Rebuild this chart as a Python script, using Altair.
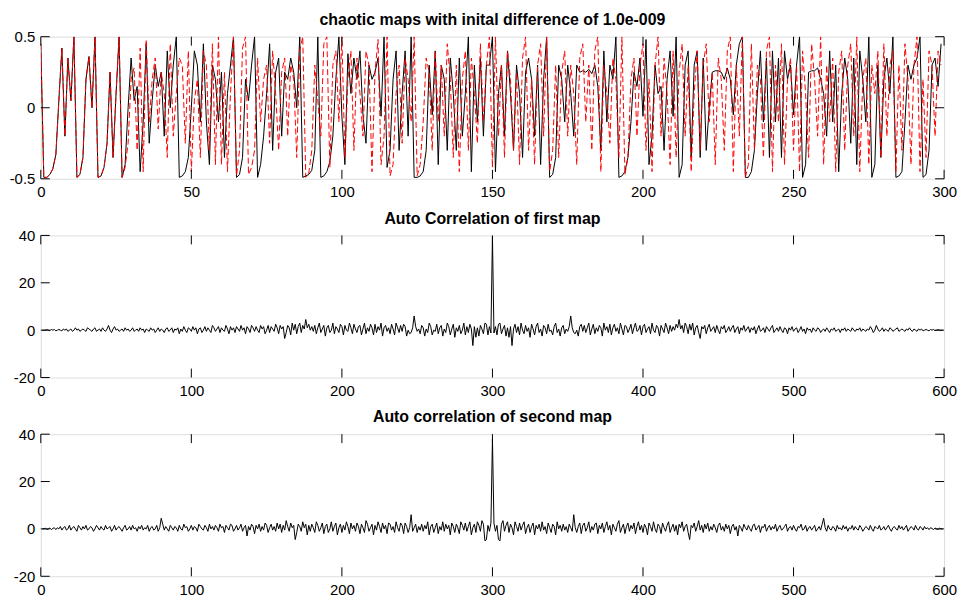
import altair as alt
import pandas as pd

# ---------------- data ----------------
map_first = [
    0.45, -0.49, -0.49, -0.47, -0.43, -0.33, 0.05, 0.42, -0.2, 0.35,
    0.05, 0.5, -0.49, -0.47, -0.35, 0.2, 0.36, 0.0, 0.5, -0.49,
    -0.48, -0.42, -0.25, 0.25, -0.35, 0.1, 0.5, -0.49, -0.4, 0.0,
    0.35, 0.05, 0.15, -0.45, -0.1, 0.45, -0.25, 0.05, 0.3, 0.15,
    0.25, -0.2, 0.4, 0.0, 0.3, 0.5, -0.49, -0.48, -0.45, -0.35,
    0.0, 0.4, 0.3, -0.1, 0.45, -0.1, -0.4, 0.3, 0.2, -0.1,
    0.25, -0.35, 0.1, 0.3, 0.5, -0.49, -0.47, -0.35, 0.2, 0.05,
    0.3, 0.5, -0.49, -0.4, -0.2, 0.1, 0.45, -0.3, 0.25, 0.35,
    -0.2, 0.25, 0.2, 0.35, 0.25, 0.0, 0.5, -0.49, -0.48, -0.47,
    -0.44, -0.3, 0.5, -0.49, -0.48, -0.45, -0.38, -0.2, 0.2, 0.5,
    -0.06, -0.4, 0.38, 0.1, 0.35, 0.2, 0.4, -0.05, -0.25, 0.3,
    0.2, 0.25, 0.35, -0.06, 0.5, -0.42, -0.3, 0.2, 0.4, -0.3,
    0.1, 0.4, -0.2, 0.5, -0.49, -0.49, -0.48, -0.45, -0.3, 0.3,
    -0.05, 0.4, -0.4, 0.3, 0.2, -0.3, 0.35, 0.1, -0.3, 0.35,
    -0.2, 0.1, 0.5, -0.45, 0.3, -0.1, 0.35, -0.2, 0.3, 0.3,
    0.5, -0.45, 0.1, 0.3, -0.2, 0.4, 0.1, -0.3, 0.3, 0.1,
    -0.35, 0.25, 0.35, 0.2, -0.2, 0.3, -0.4, 0.2, 0.5, -0.49,
    -0.47, -0.35, 0.3, 0.2, -0.1, 0.3, 0.1, -0.2, 0.3, 0.25,
    0.26, 0.25, 0.27, 0.24, 0.3, 0.15, -0.3, 0.4, -0.1, 0.3,
    0.2, 0.5, -0.49, -0.48, -0.45, -0.35, -0.1, 0.25, 0.15, 0.35,
    -0.06, 0.48, -0.4, -0.2, 0.3, 0.1, 0.15, -0.3, 0.2, 0.4,
    -0.06, 0.5, -0.49, -0.4, 0.3, 0.4, -0.35, 0.3, 0.4, -0.35,
    0.35, -0.3, 0.0, 0.25, 0.26, 0.26, 0.25, 0.2, 0.28, 0.2,
    -0.05, 0.3, 0.45, 0.5, -0.49, -0.49, -0.45, -0.3, 0.1, 0.4,
    -0.1, 0.35, -0.35, 0.4, -0.1, 0.35, -0.35, 0.4, 0.2, 0.3,
    -0.05, 0.3, 0.5, -0.49, -0.4, 0.25, 0.26, 0.26, 0.28, 0.2,
    0.1, -0.2, 0.4, -0.1, 0.3, -0.45, 0.1, 0.35, 0.2, -0.25,
    0.35, -0.4, 0.4, 0.2, -0.1, 0.5, -0.49, -0.4, 0.3, -0.35,
    0.2, 0.35, 0.1, 0.5, -0.49, -0.48, -0.45, -0.1, 0.3, 0.2,
    0.3, 0.35, 0.5, -0.49, -0.47, -0.3, 0.3, 0.35, 0.15, 0.45,
]

# second map: identical to the first for the first 28 samples, then diverges
map_second_tail = [
    -0.42, -0.25, 0.2, 0.28, -0.3, 0.42, -0.45, 0.48, -0.1, 0.2, 0.35, -0.15,
    0.25, 0.1, -0.35, 0.45, -0.2, 0.1, 0.35, 0.3, -0.25, 0.4,
    -0.45, 0.05, 0.2, -0.35, 0.4, 0.3, -0.3, 0.45, -0.4, 0.5,
    -0.4, 0.25, -0.45, 0.1, 0.5, -0.48, -0.3, 0.42, 0.5, -0.47,
    -0.42, -0.3, 0.35, -0.1, 0.2, 0.3, -0.25, 0.4, 0.1, -0.3,
    0.25, 0.35, -0.2, 0.3, 0.2, -0.35, 0.4, 0.5, -0.49, -0.46,
    -0.3, 0.3, 0.05, -0.2, 0.45, 0.5, -0.42, 0.3, 0.4, -0.1,
    0.5, -0.35, 0.2, 0.4, -0.3, 0.35, 0.1, -0.2, 0.4, 0.3,
    -0.45, 0.25, 0.48, -0.4, -0.2, 0.5, -0.48, -0.4, 0.1, 0.3,
    -0.25, 0.35, 0.2, -0.1, 0.5, -0.48, -0.4, -0.1, 0.35, 0.25,
    -0.3, 0.4, -0.1, 0.3, -0.2, 0.45, 0.2, -0.35, 0.3, -0.45,
    0.2, 0.4, -0.3, 0.35, 0.1, -0.25, 0.45, -0.1, 0.3, 0.5,
    -0.42, 0.5, -0.2, 0.3, -0.35, 0.4, 0.2, -0.3, 0.25, -0.4,
    0.35, 0.5, -0.3, 0.2, -0.4, 0.3, 0.45, -0.2, 0.5, -0.45,
    -0.3, 0.3, -0.35, 0.25, 0.4, -0.2, 0.3, 0.1, -0.4, 0.35,
    0.45, -0.1, 0.3, -0.3, 0.4, 0.5, -0.45, 0.3, 0.1, -0.25,
    0.35, 0.2, -0.35, 0.5, -0.47, -0.35, 0.2, 0.35, -0.2, 0.3,
    0.45, -0.3, 0.2, -0.45, 0.3, 0.5, -0.2, 0.35, 0.1, -0.4,
    0.4, -0.35, 0.25, 0.45, -0.2, 0.3, -0.45, 0.1, 0.4, -0.3,
    0.3, 0.45, -0.1, 0.25, -0.4, 0.35, 0.2, -0.3, 0.4, 0.5,
    -0.45, 0.3, -0.2, 0.5, -0.49, -0.4, 0.45, -0.3, 0.3, 0.2,
    -0.35, 0.4, 0.5, -0.45, 0.3, -0.1, 0.45, -0.4, 0.2, 0.35,
    -0.3, 0.3, -0.45, 0.4, 0.1, -0.35, 0.45, 0.2, -0.2, 0.5,
    -0.4, 0.3, -0.1, 0.35, -0.45, 0.25, 0.4, -0.3, 0.3, 0.45,
    -0.2, 0.5, -0.45, 0.2, 0.35, -0.4, 0.3, 0.1, 0.4, -0.35,
    0.45, -0.2, 0.3, 0.4, -0.45, 0.3, -0.3, 0.45, 0.2, -0.4,
    0.3, 0.5, -0.45, 0.2, -0.35, 0.4, 0.3, -0.2, 0.4, 0.3,
]
map_second = map_first[:28] + map_second_tail

# auto-correlation values at lags 1..299 (the sequence is symmetric about lag 0)
acf1_peak = 39.5
acf1_lags = [
    -1.2, 1.5, -2.0, 2.5, 3.0, -1.5, 0.5, 2.0, -2.5, 1.0,
    -3.0, 1.5, -6.5, 0.5, 2.5, -1.0, 1.5, -2.0, 3.0, 0.0,
    -1.5, 2.0, -0.5, 1.0, -3.0, 2.5, 0.5, -2.0, 1.5, 3.0,
    -1.0, 0.5, -2.5, 2.0, 1.0, -1.5, 2.5, -0.5, 0.0, -2.0,
    1.5, 3.0, -1.0, 0.5, -2.5, 1.0, 2.0, -1.5, 0.5, -0.5,
    1.5, 6.0, 1.0, -1.0, -1.5, 0.0, -2.5, 1.5, 2.5, -0.5,
    2.0, -1.0, 1.0, 3.0, -2.0, 0.5, 2.5, -1.5, 1.0, -0.5,
    2.0, 1.0, -2.5, 3.0, 0.0, 1.5, -1.0, 2.5, -2.0, 1.0,
    2.5, -0.5, 1.0, -1.5, 3.0, 0.5, -2.0, 2.0, 1.5, -1.0,
    0.5, 2.5, -1.5, 1.0, 3.0, -0.5, 0.0, 2.0, -2.0, 1.5,
    2.5, -1.0, 0.5, 1.5, -1.5, 3.0, 0.0, -1.0, 2.0, 1.0,
    -2.5, 2.0, 0.5, -1.0, 3.0, 1.0, -1.5, 2.0, -0.5, 1.5,
    0.0, 2.5, 1.0, 4.5, 0.5, 2.0, -1.0, 3.0, 1.5, -1.5,
    2.5, 0.0, 3.0, -2.0, 1.0, 2.0, -1.0, -3.5, 1.5, 0.5,
    2.0, -1.5, 1.0, 2.5, -0.5, 0.5, 1.5, -1.0, 2.0, 0.0,
    -1.5, 1.5, 0.5, 2.0, -1.0, 0.0, 1.5, -0.5, 1.0, 2.0,
    -1.0, 0.5, 1.5, -1.5, 1.0, 0.0, 2.0, -0.5, 0.5, 1.5,
    -1.0, 1.0, 0.0, 1.5, -1.5, 0.5, 2.0, -0.5, 0.0, 1.0,
    -1.0, 1.5, 0.5, -0.5, 1.0, 2.0, -1.0, 0.0, 1.0, -0.5,
    1.5, 0.0, -1.0, 1.0, 0.5, -1.5, 1.0, 0.0, 1.5, -0.5,
    0.5, 1.0, -1.0, 0.0, 1.5, -0.5, 0.5, -1.5, 1.0, 0.0,
    0.5, -1.0, 1.0, 0.0, -0.5, 1.0, 0.5, -1.0, 0.0, 0.5,
    -0.5, 1.0, 0.0, -1.0, 0.5, 0.0, 1.0, -0.5, 0.0, 0.5,
    -1.0, 0.5, 0.0, 1.0, -0.5, 0.5, 0.0, -0.5, 1.0, 0.0,
    -0.5, 0.5, 0.0, 1.0, -0.5, 0.5, 0.0, -0.5, 0.5, 0.0,
    1.5, 0.5, -1.0, 0.0, 2.0, 0.5, -0.5, 0.0, 1.0, -0.5,
    0.5, 0.0, -0.5, 1.0, 0.5, -0.5, 0.0, 0.5, 1.0, -0.5,
    0.0, 0.5, 0.0, -0.5, 0.5, 0.0, 1.0, 0.0, -0.5, 0.5,
    0.0, -0.5, 0.5, 0.0, 0.5, -0.3, 0.0, 0.3, 0.0, -0.3,
    0.3, 0.0, 0.3, -0.2, 0.0, 0.2, 0.0, -0.1, 0.0,
]

acf2_peak = 38.0
acf2_lags = [
    2.5, -1.0, 1.5, -4.5, -5.0, 2.0, 3.5, -1.0, 1.5, 3.0,
    -1.5, 2.0, 0.5, -2.5, 3.0, 1.0, -1.0, 2.5, -0.5, 1.5,
    3.0, -2.0, 0.5, 2.0, -1.5, 1.0, 2.5, -2.5, 1.5, 0.0,
    2.0, -1.0, 3.0, -0.5, 1.0, -2.0, 2.5, 0.5, -1.5, 2.0,
    1.0, -2.5, 3.0, 0.0, 1.5, -1.0, 2.0, -0.5, 1.0, -1.5,
    2.0, 0.5, -1.0, 6.0, 0.5, -1.5, 1.0, 2.5, -2.0, 1.5,
    2.5, -1.0, 0.5, 3.0, -1.5, 1.0, -0.5, 2.0, 2.5, -2.0,
    1.5, 0.0, 2.5, -1.5, 1.0, 3.0, -0.5, 1.5, -2.5, 2.0,
    0.5, -1.0, 2.0, 3.5, -1.5, 0.5, 2.0, -2.0, 1.0, 2.5,
    -1.0, 1.5, 0.0, 2.5, -2.0, 1.0, 3.0, -0.5, 1.5, -1.5,
    2.0, 0.5, -2.5, 2.5, 1.0, -1.0, 3.0, 0.0, -1.5, 2.0,
    1.0, -2.0, 2.5, 0.5, -1.0, 1.5, 3.0, -1.5, 0.5, 2.0,
    -1.0, 1.5, -2.5, 2.0, 0.5, 3.0, -1.0, 1.0, 2.0, -1.5,
    -4.5, 1.5, 0.5, 2.5, -1.0, 1.0, 3.5, -0.5, 1.5, -1.5,
    2.0, 0.0, 2.5, -1.0, 1.0, -0.5, 2.0, 0.5, -1.5, 1.5,
    2.5, -0.5, 1.0, -1.0, 2.0, 0.0, 1.5, -2.0, 1.0, 2.0,
    -0.5, 1.0, -3.0, 1.5, 0.5, -1.0, 2.0, 0.5, -0.5, 1.5,
    0.0, -1.0, 1.5, 2.0, -0.5, 0.5, 1.5, -1.5, 1.0, 0.5,
    2.0, -1.0, 0.5, 1.5, -0.5, 1.0, 0.0, 2.0, -1.0, 0.5,
    1.5, -0.5, 0.0, 1.0, 2.0, -1.0, 0.5, 1.0, -0.5, 1.5,
    0.0, -1.0, 1.0, 0.5, 2.0, -0.5, 0.0, 1.5, -1.0, 0.5,
    1.0, -0.5, 0.5, 1.5, -1.0, 0.0, 1.0, -0.5, 2.0, 4.5,
    0.5, -1.0, 1.5, 0.0, -0.5, 1.0, 0.5, -1.0, 1.5, 0.0,
    0.5, -0.5, 1.5, 0.0, 1.0, -1.0, 0.5, 0.0, 1.5, -0.5,
    1.0, 0.0, -0.5, 1.5, 0.5, -1.0, 0.0, 1.0, 0.5, -0.5,
    1.5, 0.0, -1.0, 1.0, 0.5, 0.0, 1.5, -0.5, 0.0, 1.0,
    -0.5, 0.5, 1.5, 0.0, -1.0, 0.5, 1.0, 0.0, -0.5, 1.5,
    0.0, 1.0, -0.5, 0.5, 1.5, -1.0, 0.0, 1.0, 0.5, -0.5,
    1.5, 0.0, -0.5, 1.0, 0.5, -0.5, 1.0, 0.0, 0.5, -0.3,
    0.5, 0.2, -0.3, 0.4, 0.0, -0.2, 0.3, 0.0, 0.1,
]

top_xticks = [0, 50, 100, 150, 200, 250, 300]
top_yticks = [-0.5, 0, 0.5]
acf_xticks = [0, 100, 200, 300, 400, 500, 600]
acf_yticks = [-20, 0, 20, 40]

title_top = "chaotic maps with inital difference of 1.0e-009"
title_mid = "Auto Correlation of first map"
title_bot = "Auto correlation of second map"

# ---------------- build tables ----------------
top_df = pd.DataFrame({
    "x": list(range(len(map_first))) * 2,
    "y": map_first + map_second,
    "series": ["first"] * len(map_first) + ["second"] * len(map_second),
})


def full_acf(peak, lags):
    vals = list(reversed(lags)) + [peak] + list(lags)
    return pd.DataFrame({"x": list(range(1, len(vals) + 1)), "y": vals})


acf1_df = full_acf(acf1_peak, acf1_lags)
acf2_df = full_acf(acf2_peak, acf2_lags)

W, H = 909, 143
TICK = 9
FONT = "Liberation Sans"


def panel(lines, xdomain, ydomain, xticks, yticks, title):
    xs = alt.Scale(domain=xdomain, nice=False, zero=False)
    ys = alt.Scale(domain=ydomain, nice=False, zero=False)
    xax = alt.Axis(values=xticks, ticks=False, domain=False, grid=False, title=None,
                   labelFontSize=15, labelFont=FONT, labelColor="black", labelPadding=6,
                   labelFlush=False, labelOverlap=False, labelExpr="datum.value + ''")
    yax = alt.Axis(values=yticks, ticks=False, domain=False, grid=False, title=None,
                   labelFontSize=15, labelFont=FONT, labelColor="black", labelPadding=6,
                   labelFlush=False, labelOverlap=False, labelExpr="datum.value + ''")
    base_layers = []
    for i, lyr in enumerate(lines):
        if i == 0:
            lyr = lyr.encode(x=alt.X("x:Q", scale=xs, axis=xax),
                             y=alt.Y("y:Q", scale=ys, axis=yax))
        else:
            lyr = lyr.encode(x=alt.X("x:Q", scale=xs), y=alt.Y("y:Q", scale=ys))
        base_layers.append(lyr)

    xt = pd.DataFrame({"x": xticks})
    yt = pd.DataFrame({"y": yticks})
    tick_style = dict(color="black", strokeWidth=1)
    t1 = alt.Chart(xt).mark_rule(**tick_style).encode(
        x=alt.X("x:Q", scale=xs), y=alt.value(H), y2=alt.value(H - TICK))
    t2 = alt.Chart(xt).mark_rule(**tick_style).encode(
        x=alt.X("x:Q", scale=xs), y=alt.value(0), y2=alt.value(TICK))
    t3 = alt.Chart(yt).mark_rule(**tick_style).encode(
        y=alt.Y("y:Q", scale=ys), x=alt.value(0), x2=alt.value(TICK))
    t4 = alt.Chart(yt).mark_rule(**tick_style).encode(
        y=alt.Y("y:Q", scale=ys), x=alt.value(W), x2=alt.value(W - TICK))
    return alt.layer(*base_layers, t1, t2, t3, t4).properties(
        width=W, height=H,
        title=alt.TitleParams(title, fontSize=16, fontWeight="bold", font=FONT,
                              color="black", anchor="middle", offset=2),
    )


black_line = alt.Chart(top_df).transform_filter(alt.datum.series == "first").mark_line(
    color="black", strokeWidth=1, clip=True)
red_line = alt.Chart(top_df).transform_filter(alt.datum.series == "second").mark_line(
    color="#ff0000", strokeWidth=1, strokeDash=[6, 3], clip=True)

p1 = panel([black_line, red_line], [0, 300], [-0.5, 0.5], top_xticks, top_yticks, title_top)
p2 = panel([alt.Chart(acf1_df).mark_line(color="black", strokeWidth=1, clip=True)],
           [0, 600], [-20, 40], acf_xticks, acf_yticks, title_mid)
p3 = panel([alt.Chart(acf2_df).mark_line(color="black", strokeWidth=1, clip=True)],
           [0, 600], [-20, 40], acf_xticks, acf_yticks, title_bot)

chart = alt.vconcat(p1, p2, p3, spacing=9).properties(
    padding={"top": 1, "left": 0, "right": 0, "bottom": 0}
).configure_view(stroke="black", strokeWidth=1).configure(background="white")

chart.save("out.html", embed_options={"renderer": "svg", "actions": False})
